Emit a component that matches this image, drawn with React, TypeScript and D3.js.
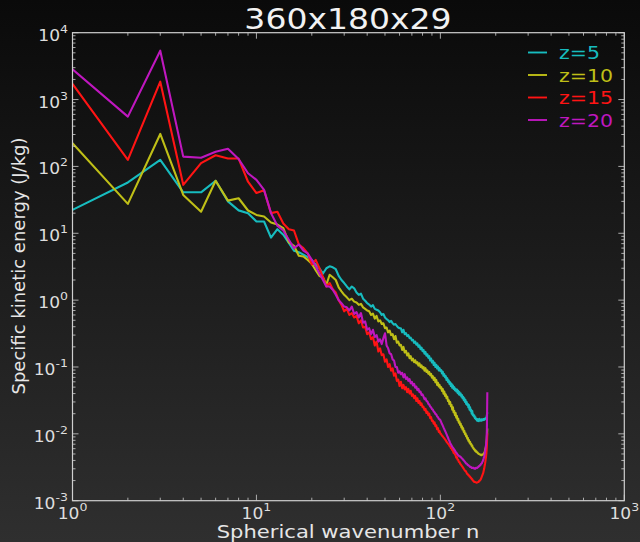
import React, { useRef, useEffect } from 'react';
import * as d3 from 'd3';

// spherical wavenumber n = 1..180
const wavenumbers = d3.range(1, 181);

const seriesNames = ['z=5', 'z=10', 'z=15', 'z=20'];
const seriesColors = ['#17bcbf', '#bfbf17', '#ff1414', '#bf17bf'];

const energyZ5 = [
  22.4, 57.5, 125, 41, 41, 61, 30, 22, 20, 15,
  15, 8.6, 11.5, 9.5, 7.2, 5.5, 5.2, 4.8, 4.4, 4.0,
  3.4, 3.0, 2.5, 3.0, 3.2, 3.1, 2.9, 2.3, 2.0, 1.8,
  1.6, 1.45, 1.6, 1.5, 1.3, 1.2, 1.25, 1.05, 0.98, 0.9,
  0.86, 0.8, 0.84, 0.74, 0.72, 0.7, 0.66, 0.6, 0.62, 0.55,
  0.52, 0.5, 0.47, 0.49, 0.45, 0.43, 0.44, 0.41, 0.39, 0.38,
  0.38, 0.33, 0.36, 0.31, 0.32, 0.29, 0.3, 0.27, 0.275, 0.25,
  0.255, 0.23, 0.24, 0.215, 0.225, 0.2, 0.21, 0.185, 0.195, 0.172,
  0.18, 0.158, 0.168, 0.147, 0.155, 0.137, 0.145, 0.125, 0.134, 0.117,
  0.124, 0.107, 0.116, 0.1, 0.108, 0.095, 0.102, 0.089, 0.096, 0.087,
  0.09, 0.08, 0.085, 0.074, 0.078, 0.07, 0.073, 0.064, 0.068, 0.06,
  0.063, 0.056, 0.059, 0.052, 0.056, 0.049, 0.053, 0.047, 0.05, 0.045,
  0.047, 0.043, 0.046, 0.041, 0.044, 0.039, 0.042, 0.038, 0.04, 0.036,
  0.038, 0.034, 0.036, 0.032, 0.034, 0.03, 0.032, 0.028, 0.03, 0.027,
  0.028, 0.025, 0.027, 0.023, 0.025, 0.022, 0.023, 0.02, 0.022, 0.019,
  0.0195, 0.0182, 0.0188, 0.0172, 0.0178, 0.0165, 0.0168, 0.0158, 0.0166, 0.0156,
  0.0165, 0.0155, 0.0168, 0.016, 0.0163, 0.0157, 0.0165, 0.0158, 0.0163, 0.016,
  0.0166, 0.0161, 0.0168, 0.0163, 0.0166, 0.017, 0.0172, 0.0178, 0.019, 0.021,
];

const energyZ10 = [
  222, 27.5, 306, 37.5, 21, 61, 30.8, 33.4, 21.9, 18.8,
  17.8, 14.5, 13.5, 11.9, 7.3, 6.5, 4.6, 4.5, 4.0, 3.5,
  2.8, 2.3, 2.2, 1.7, 2.4, 2.2, 2.0, 1.55, 1.35, 1.2,
  1.1, 1.0, 1.05, 0.95, 0.92, 0.85, 0.88, 0.78, 0.74, 0.7,
  0.68, 0.6, 0.63, 0.53, 0.58, 0.48, 0.5, 0.44, 0.45, 0.38,
  0.39, 0.33, 0.35, 0.3, 0.31, 0.26, 0.29, 0.23, 0.24, 0.21,
  0.215, 0.18, 0.2, 0.165, 0.175, 0.148, 0.16, 0.135, 0.145, 0.125,
  0.133, 0.118, 0.126, 0.113, 0.118, 0.105, 0.113, 0.1, 0.106, 0.095,
  0.1, 0.088, 0.096, 0.084, 0.089, 0.079, 0.084, 0.075, 0.079, 0.069,
  0.073, 0.064, 0.069, 0.059, 0.064, 0.054, 0.058, 0.051, 0.054, 0.048,
  0.05, 0.044, 0.047, 0.04, 0.043, 0.037, 0.039, 0.034, 0.036, 0.031,
  0.032, 0.028, 0.03, 0.026, 0.027, 0.023, 0.025, 0.021, 0.022, 0.019,
  0.0205, 0.0175, 0.0185, 0.016, 0.0168, 0.0147, 0.0153, 0.0136, 0.0142, 0.0125,
  0.013, 0.0116, 0.0121, 0.0107, 0.0111, 0.0099, 0.0102, 0.0092, 0.0094, 0.0085,
  0.0087, 0.0079, 0.0081, 0.0074, 0.0076, 0.007, 0.0071, 0.0066, 0.0067, 0.0062,
  0.0062, 0.0059, 0.0059, 0.0056, 0.0057, 0.0054, 0.0055, 0.0053, 0.0053, 0.0051,
  0.0051, 0.005, 0.005, 0.0049, 0.0049, 0.0048, 0.0049, 0.0048, 0.0049, 0.0049,
  0.005, 0.005, 0.0052, 0.0053, 0.0057, 0.006, 0.0065, 0.0072, 0.0085, 0.012,
];

const energyZ15 = [
  1710, 125, 1850, 53, 112, 147, 131, 131, 59, 40,
  44, 20, 21, 14, 11.5, 11, 6.8, 6.0, 5.0, 3.4,
  4.0, 3.0, 2.2, 1.6, 1.8, 1.45, 1.3, 1.0, 0.85, 0.68,
  0.74, 0.6, 0.64, 0.55, 0.58, 0.45, 0.5, 0.39, 0.4, 0.31,
  0.33, 0.26, 0.28, 0.21, 0.24, 0.17, 0.19, 0.15, 0.155, 0.12,
  0.13, 0.1, 0.11, 0.088, 0.095, 0.074, 0.08, 0.062, 0.065, 0.052,
  0.06, 0.048, 0.054, 0.046, 0.05, 0.042, 0.047, 0.04, 0.044, 0.037,
  0.039, 0.034, 0.037, 0.031, 0.034, 0.029, 0.031, 0.027, 0.0285, 0.025,
  0.0255, 0.0225, 0.0237, 0.0205, 0.0215, 0.019, 0.02, 0.0172, 0.0178, 0.0156,
  0.0158, 0.0142, 0.0148, 0.013, 0.0134, 0.0117, 0.0122, 0.0107, 0.011, 0.0101,
  0.0099, 0.0094, 0.0092, 0.0088, 0.0086, 0.0082, 0.008, 0.0076, 0.0074, 0.0071,
  0.007, 0.0066, 0.0065, 0.0061, 0.0061, 0.0057, 0.0056, 0.0052, 0.0053, 0.0049,
  0.0048, 0.0044, 0.0045, 0.0041, 0.0041, 0.0038, 0.0038, 0.0036, 0.0035, 0.0034,
  0.0033, 0.0032, 0.0031, 0.003, 0.0029, 0.0028, 0.0028, 0.0027, 0.0026, 0.0025,
  0.0025, 0.0024, 0.0024, 0.0023, 0.0023, 0.0022, 0.0022, 0.0021, 0.0021, 0.002,
  0.002, 0.00195, 0.0019, 0.0019, 0.0019, 0.00188, 0.00186, 0.00186, 0.00188, 0.0019,
  0.0019, 0.00195, 0.002, 0.002, 0.00205, 0.0021, 0.0022, 0.0023, 0.0024, 0.0025,
  0.0026, 0.0028, 0.003, 0.0033, 0.0036, 0.004, 0.0045, 0.0052, 0.0065, 0.0102,
];

const energyZ20 = [
  2840, 555, 5380, 140, 135, 166, 184, 129, 79, 63,
  44.5, 20, 13, 11, 8, 6.0, 6.8, 5.5, 5.0, 4.0,
  3.2, 2.5, 2.0, 1.6, 1.6, 1.43, 1.2, 1.0, 0.9, 0.8,
  0.78, 0.7, 0.8, 0.62, 0.66, 0.55, 0.64, 0.46, 0.48, 0.36,
  0.38, 0.31, 0.36, 0.28, 0.3, 0.24, 0.26, 0.22, 0.27, 0.32,
  0.21, 0.19, 0.16, 0.155, 0.13, 0.125, 0.1, 0.1, 0.082, 0.086,
  0.078, 0.082, 0.07, 0.078, 0.066, 0.07, 0.062, 0.066, 0.057, 0.06,
  0.053, 0.056, 0.049, 0.051, 0.045, 0.047, 0.042, 0.043, 0.038, 0.039,
  0.036, 0.033, 0.034, 0.031, 0.0305, 0.028, 0.0275, 0.0257, 0.025, 0.0235,
  0.023, 0.0215, 0.021, 0.0198, 0.0195, 0.0182, 0.0178, 0.0168, 0.0165, 0.016,
  0.015, 0.014, 0.0133, 0.0125, 0.0118, 0.0111, 0.0105, 0.0099, 0.0093, 0.0088,
  0.0082, 0.0078, 0.0073, 0.007, 0.0067, 0.0064, 0.0062, 0.006, 0.0058, 0.0056,
  0.0054, 0.0052, 0.0051, 0.0049, 0.0048, 0.0047, 0.0046, 0.0046, 0.0045, 0.0044,
  0.0043, 0.0042, 0.0041, 0.004, 0.0039, 0.0038, 0.0037, 0.0036, 0.0036, 0.0035,
  0.0034, 0.0034, 0.0033, 0.0033, 0.0032, 0.0032, 0.0032, 0.0031, 0.0031, 0.0031,
  0.0031, 0.0031, 0.003, 0.003, 0.003, 0.0031, 0.0031, 0.0031, 0.0031, 0.0032,
  0.0032, 0.0033, 0.0033, 0.0034, 0.0034, 0.0035, 0.0036, 0.0036, 0.0038, 0.0039,
  0.0041, 0.0043, 0.0046, 0.005, 0.0055, 0.006, 0.0068, 0.008, 0.011, 0.042,
];

const xDecades = [0, 1, 2, 3];
const yDecades = [-3, -2, -1, 0, 1, 2, 3, 4];

function App() {
  const svgRef = useRef<SVGSVGElement>(null);

  useEffect(() => {
    const width = 640;
    const height = 542;
    const left = 72.5, right = 624.3, top = 32.7, bottom = 500.7;
    const stretch = 1.14; // text in the picture is a bit wide
    const font = 'DejaVu Sans, sans-serif';
    const axisColor = '#cfcfcf';

    const svg = d3.select(svgRef.current);
    svg.selectAll('*').remove();
    svg.attr('width', width).attr('height', height);

    const defs = svg.append('defs');
    const grad = defs.append('linearGradient')
      .attr('id', 'bg').attr('x1', 0).attr('y1', 0).attr('x2', 0).attr('y2', 1);
    grad.append('stop').attr('offset', '0%').attr('stop-color', '#0a0a0a');
    grad.append('stop').attr('offset', '100%').attr('stop-color', '#2f2f2f');
    defs.append('clipPath').attr('id', 'plotclip')
      .append('rect').attr('x', left).attr('y', top)
      .attr('width', right - left).attr('height', bottom - top);

    svg.append('rect').attr('width', width).attr('height', height).attr('fill', 'url(#bg)');

    const x = d3.scaleLog().domain([1, 1000]).range([left, right]);
    const y = d3.scaleLog().domain([1e-3, 1e4]).range([bottom, top]);

    // series
    const allSeries = [energyZ5, energyZ10, energyZ15, energyZ20];
    const line = d3.line<number>()
      .x((d, i) => x(wavenumbers[i]))
      .y(d => y(d));

    const plot = svg.append('g').attr('clip-path', 'url(#plotclip)');
    allSeries.forEach((vals, k) => {
      plot.append('path')
        .datum(vals)
        .attr('d', line)
        .attr('fill', 'none')
        .attr('stroke', seriesColors[k])
        .attr('stroke-width', 2.1)
        .attr('stroke-linejoin', 'round');
    });

    // frame
    svg.append('rect')
      .attr('x', left).attr('y', top)
      .attr('width', right - left).attr('height', bottom - top)
      .attr('fill', 'none').attr('stroke', axisColor).attr('stroke-width', 1.2);

    // ticks (inward, all four sides)
    const ticks = svg.append('g').attr('stroke', axisColor).attr('stroke-width', 0.8);
    xDecades.forEach(p => {
      for (let m = 1; m <= 9; m++) {
        const v = m * Math.pow(10, p);
        if (v > 1000) continue;
        const len = m === 1 ? 6 : 3;
        const px = x(v);
        ticks.append('line').attr('x1', px).attr('x2', px).attr('y1', bottom).attr('y2', bottom - len);
        ticks.append('line').attr('x1', px).attr('x2', px).attr('y1', top).attr('y2', top + len);
      }
    });
    yDecades.forEach(p => {
      for (let m = 1; m <= 9; m++) {
        const v = m * Math.pow(10, p);
        if (v > 1e4) continue;
        const len = m === 1 ? 6 : 3;
        const py = y(v);
        ticks.append('line').attr('y1', py).attr('y2', py).attr('x1', left).attr('x2', left + len);
        ticks.append('line').attr('y1', py).attr('y2', py).attr('x1', right).attr('x2', right - len);
      }
    });

    // tick labels
    const labelColor = '#dedede';
    xDecades.forEach(p => {
      const t = svg.append('text')
        .attr('transform', `translate(${x(Math.pow(10, p))},519) scale(${stretch},1)`)
        .attr('text-anchor', 'middle')
        .attr('fill', labelColor)
        .style('font-family', font)
        .style('font-size', '15px');
      t.append('tspan').text('10');
      t.append('tspan').attr('dy', -8).style('font-size', '11px').text(String(p));
    });
    yDecades.forEach(p => {
      const t = svg.append('text')
        .attr('transform', `translate(68,${y(Math.pow(10, p)) + 8}) scale(${stretch},1)`)
        .attr('text-anchor', 'end')
        .attr('fill', labelColor)
        .style('font-family', font)
        .style('font-size', '15px');
      t.append('tspan').text('10');
      t.append('tspan').attr('dy', -8).style('font-size', '11px').text(String(p));
    });

    // title and axis labels
    svg.append('text')
      .attr('transform', `translate(348,29) scale(${stretch},1)`)
      .attr('text-anchor', 'middle')
      .attr('fill', '#f2f2f2')
      .style('font-family', font)
      .style('font-size', '29px')
      .text('360x180x29');

    svg.append('text')
      .attr('transform', `translate(348,538) scale(${stretch},1)`)
      .attr('text-anchor', 'middle')
      .attr('fill', '#e6e6e6')
      .style('font-family', font)
      .style('font-size', '18.5px')
      .text('Spherical wavenumber n');

    svg.append('text')
      .attr('transform', `translate(25,266) rotate(-90)`)
      .attr('text-anchor', 'middle')
      .attr('fill', '#e6e6e6')
      .style('font-family', font)
      .style('font-size', '18px')
      .text('Specific kinetic energy (J/kg)');

    // legend
    const legend = svg.append('g');
    seriesNames.forEach((name, k) => {
      const ly = 52.5 + k * 22.5;
      legend.append('line')
        .attr('x1', 528).attr('x2', 547).attr('y1', ly).attr('y2', ly)
        .attr('stroke', seriesColors[k]).attr('stroke-width', 1.9);
      legend.append('text')
        .attr('transform', `translate(559,${ly + 6.5}) scale(${stretch},1)`)
        .attr('fill', seriesColors[k])
        .style('font-family', font)
        .style('font-size', '18px')
        .text(name);
    });
  }, []);

  return (
    <svg ref={svgRef} style={{ position: 'absolute', left: 0, top: 0, display: 'block' }}></svg>
  );
}

export default App;
